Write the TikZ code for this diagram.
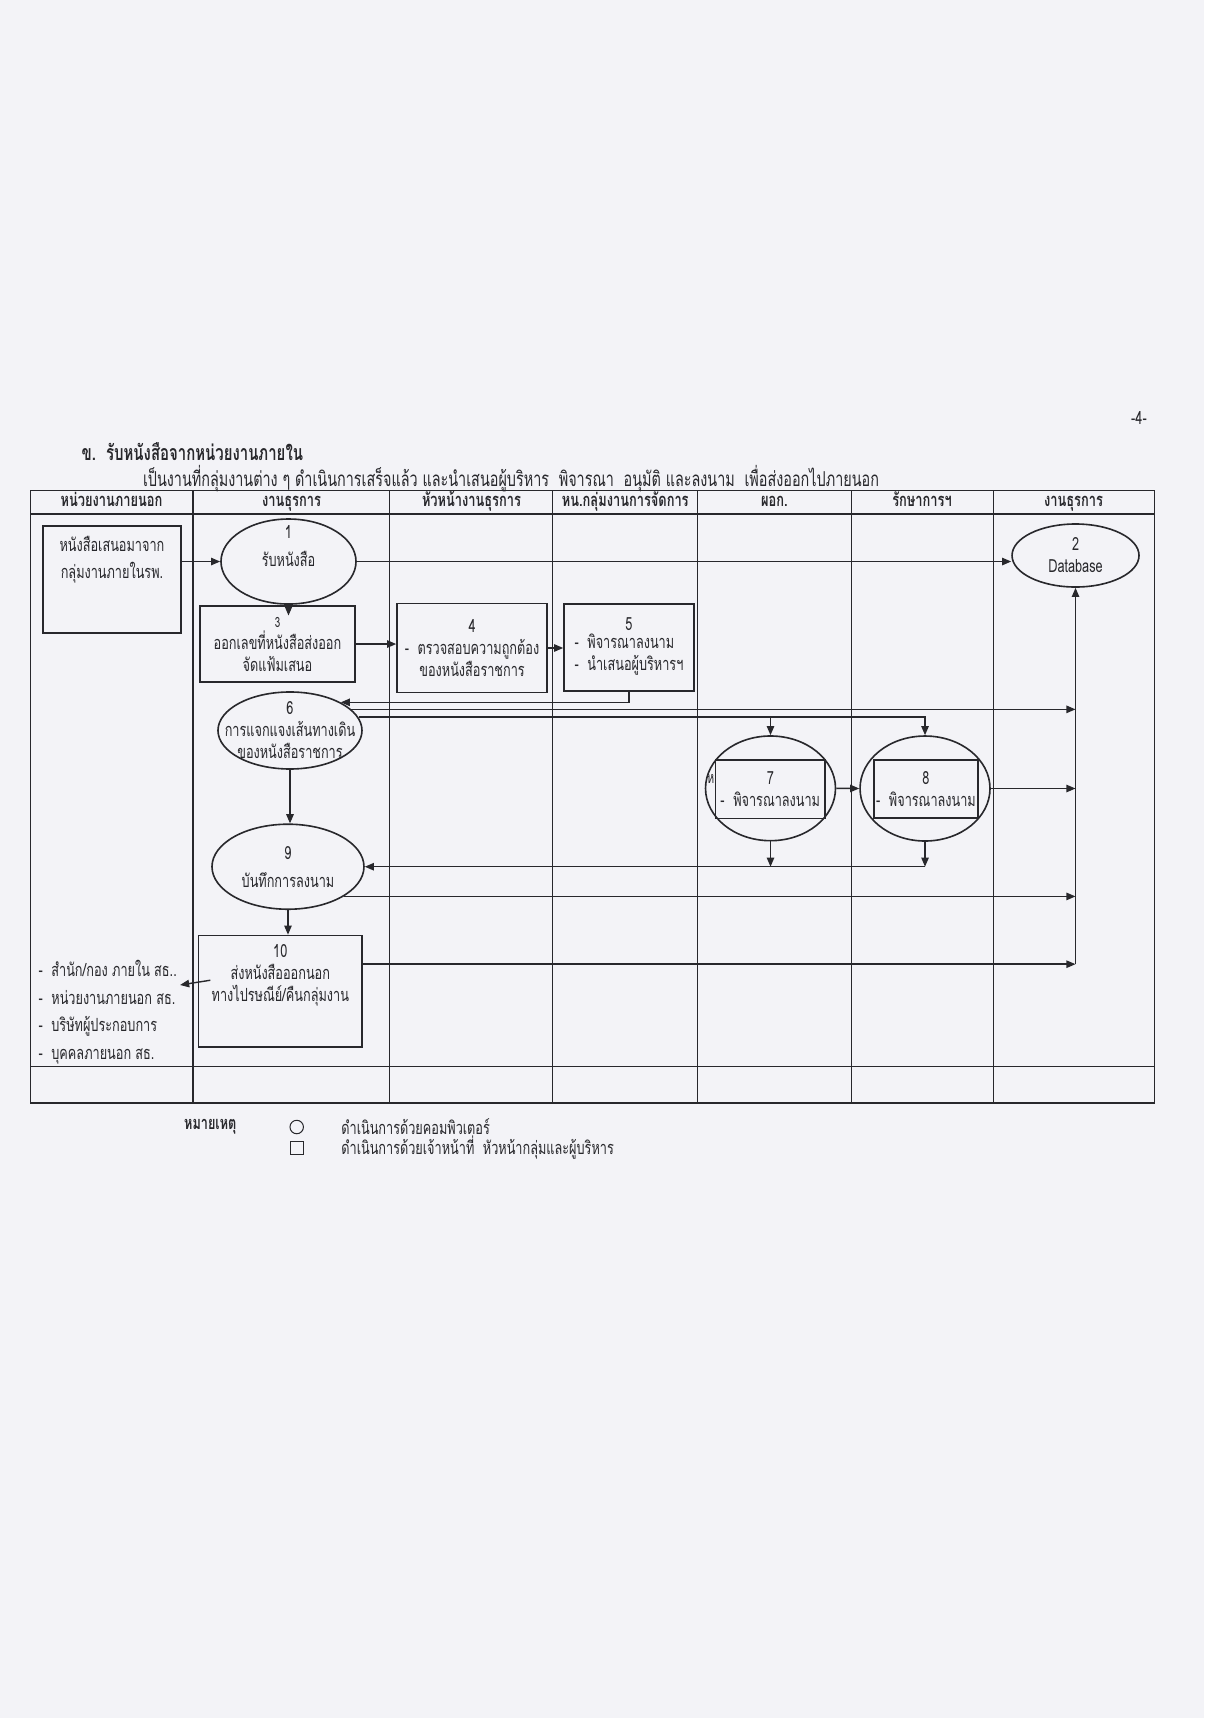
\documentclass[tikz,border=0pt]{standalone}
\usepackage{fontspec}
\newfontfamily\thai[Script=Thai, FakeStretch=0.7]{Loma}
\usetikzlibrary{shapes.geometric,arrows.meta}
\definecolor{paper}{RGB}{243,243,247}
\definecolor{ink}{RGB}{40,40,44}

\begin{document}
\begin{tikzpicture}[
          every node/.style={font=\thai\fontsize{9}{10.9}\selectfont, text=ink, align=center},
          header/.style={draw=ink, line width=0.5pt, inner sep=0pt, minimum height=0.418cm,
                         text height=0.2cm, text depth=0.06cm, font=\thai\bfseries\fontsize{9.1}{10.9}\selectfont},
          lane/.style={draw=ink, line width=0.5pt, inner sep=0pt, minimum height=9.628cm},
          foot/.style={draw=ink, line width=0.5pt, inner sep=0pt, minimum height=0.645cm},
          task/.style={draw=ink, line width=0.8pt, rectangle, inner sep=0pt},
          proc/.style={draw=ink, line width=0.8pt, ellipse, inner sep=0pt},
          arr/.style={draw=ink, line width=0.7pt, -{Triangle[length=1.6mm, width=1.3mm]}}
        ]

        % page
        \fill[paper] (0,0) rectangle (21,-29.965);
        \useasboundingbox (0,0) rectangle (21,-29.965);

        % Title lines
        \node (page no) at (19.866,-7.291) {-4-};
        \node[anchor=west, font=\thai\bfseries\fontsize{10.6}{12}\selectfont] (title) at (1.30,-7.878) {ข.\ \ รับหนังสือจากหน่วยงานภายใน};
        \node[anchor=west, font=\thai\fontsize{10.2}{11}\selectfont] (subtitle) at (2.37,-8.355) {เป็นงานที่กลุ่มงานต่าง ๆ ดำเนินการเสร็จแล้ว และนำเสนอผู้บริหาร\ \ พิจารณา\ \ อนุมัติ และลงนาม\ \ เพื่อส่งออกไปภายนอก};

        % Top row (column headers)
        \node[header, minimum width=2.843cm] (h1) at (1.945,-8.756) {หน่วยงานภายนอก};
        \node[header, minimum width=3.436cm] (h2) at (5.084,-8.756) {งานธุรการ};
        \node[header, minimum width=2.843cm] (h3) at (8.2235,-8.756) {หัวหน้างานธุรการ};
        \node[header, minimum width=2.522cm] (h4) at (10.906,-8.756) {หน.กลุ่มงานการจัดการ};
        \node[header, minimum width=2.676cm] (h5) at (13.505,-8.756) {ผอก.};
        \node[header, minimum width=2.477cm] (h6) at (16.0815,-8.756) {รักษาการฯ};
        \node[header, minimum width=2.808cm] (h7) at (18.724,-8.756) {งานธุรการ};

        % Lanes
        \node[lane, minimum width=2.843cm] (l1) at (1.945,-13.779) {};
        \node[lane, minimum width=3.436cm] (l2) at (5.084,-13.779) {};
        \node[lane, minimum width=2.843cm] (l3) at (8.2235,-13.779) {};
        \node[lane, minimum width=2.522cm] (l4) at (10.906,-13.779) {};
        \node[lane, minimum width=2.676cm] (l5) at (13.505,-13.779) {};
        \node[lane, minimum width=2.477cm] (l6) at (16.0815,-13.779) {};
        \node[lane, minimum width=2.808cm] (l7) at (18.724,-13.779) {};

        % Bottom row
        \node[foot, minimum width=2.843cm] (f1) at (1.945,-18.9155) {};
        \node[foot, minimum width=3.436cm] (f2) at (5.084,-18.9155) {};
        \node[foot, minimum width=2.843cm] (f3) at (8.2235,-18.9155) {};
        \node[foot, minimum width=2.522cm] (f4) at (10.906,-18.9155) {};
        \node[foot, minimum width=2.676cm] (f5) at (13.505,-18.9155) {};
        \node[foot, minimum width=2.477cm] (f6) at (16.0815,-18.9155) {};
        \node[foot, minimum width=2.808cm] (f7) at (18.724,-18.9155) {};

        % Steps
        \node[task, minimum width=2.407cm, minimum height=1.866cm,
              label={[yshift=0.346cm]center:หนังสือเสนอมาจาก\\[0.1cm]กลุ่มงานภายในรพ.}] (src) at (1.953,-10.108) {};
        \node[proc, minimum width=2.355cm, minimum height=1.483cm,
              label={[yshift=0.27cm]center:1\\[0.1cm]รับหนังสือ}] (one) at (5.032,-9.794) {};
        \node[proc, minimum width=2.215cm, minimum height=1.099cm,
              label={center:2\\Database}] (two) at (18.759,-9.689) {};
        \node[task, minimum width=2.704cm, minimum height=1.326cm,
              label={center:{\scriptsize 3}\\ออกเลขที่หนังสือส่งออก\\จัดแฟ้มเสนอ}] (three) at (4.840,-11.233) {};
        \node[task, minimum width=2.616cm, minimum height=1.552cm,
              label={center:4\\-\ \ ตรวจสอบความถูกต้อง\\ของหนังสือราชการ}] (four) at (8.233,-11.302) {};
        \node[task, minimum width=2.267cm, minimum height=1.517cm,
              label={center:5\\\begin{tabular}{@{}l@{}}-\ \ พิจารณาลงนาม\\-\ \ นำเสนอผู้บริหารฯ\end{tabular}}] (five) at (10.971,-11.294) {};
        \node[proc, minimum width=2.512cm, minimum height=1.343cm,
              label={center:6\\การแจกแจงเส้นทางเดิน\\ของหนังสือราชการ}] (six) at (5.058,-12.741) {};
        \node[proc, minimum width=2.267cm, minimum height=1.826cm] (seven) at (13.439,-13.750) {};
        \node[task, minimum width=1.908cm, minimum height=1.017cm] (seven box) at (13.435,-13.765) {7\\-\ \ พิจารณาลงนาม};
        \node[anchor=east, inner sep=0pt, font=\thai\fontsize{8}{9}\selectfont] (stray) at (seven box.west |- 0,-13.58) {ห};
        \node[proc, minimum width=2.267cm, minimum height=1.831cm] (eight) at (16.134,-13.753) {};
        \node[task, minimum width=1.814cm, minimum height=1.012cm] (eight box) at (16.151,-13.762) {8\\-\ \ พิจารณาลงนาม};
        \node[proc, minimum width=2.651cm, minimum height=1.483cm,
              label={center:9\\[0.1cm]บันทึกการลงนาม}] (nine) at (5.023,-15.117) {};
        \node[task, minimum width=2.852cm, minimum height=1.940cm,
              label={[yshift=0.28cm]center:10\\ส่งหนังสือออกนอก\\ทางไปรษณีย์/คืนกลุ่มงาน}] (ten) at (4.889,-17.287) {};

        % Receivers
        \node[anchor=west, align=left, font=\thai\fontsize{9}{13.7}\selectfont] (dest) at (0.55,-17.655)
              {-\ \ สำนัก/กอง ภายใน สธ..\\-\ \ หน่วยงานภายนอก สธ.\\-\ \ บริษัทผู้ประกอบการ\\-\ \ บุคคลภายนอก สธ.};
        \coordinate (dest arrow) at (3.14,-17.18);

        % Connectors
        \draw[arr] (src.east |- one.west) -- (one.west);
        \draw[arr] (one.east) -- (one.east -| two.west);
        \draw[arr] (one.south) -- ([yshift=-0.18cm]one.south |- three.north);
        \draw[arr] (three.east) -- (three.east -| four.west);
        \draw[arr] (four.east) -- (four.east -| five.west);
        \draw[arr] (five.south) |- (six.29);
        \draw[arr] (six.19) -- (six.19 -| two.south);
        \draw[arr] (six.11) -| (eight.north);
        \draw[arr] (six.11 -| seven.north) -- (seven.north);
        \draw[arr] (seven.east) -- (eight.west);
        \draw[arr] (eight.east) -- (eight.east -| two.south);
        \coordinate (back) at (eight.south |- nine.east);
        \draw[arr] (eight.south) -- (back);
        \draw[arr] (seven.south) -- (seven.south |- nine.east);
        \draw[arr] (back) -- (nine.east);
        \draw[arr] (six.south) -- (six.south |- nine.north);
        \draw[arr] (nine.-28) -- (nine.-28 -| two.south);
        \draw[arr] (nine.south) -- (nine.south |- ten.north);
        \coordinate (bus) at ([yshift=0.47cm]ten.east -| two.south);
        \draw[arr] ([yshift=0.47cm]ten.east) -- (bus);
        \draw[arr] (bus) -- (two.south);
        \draw[arr] ([shift={(0.22,0.19)}]ten.west) -- (dest arrow);

        % Legend
        \node[font=\thai\bfseries\fontsize{9}{10.9}\selectfont] (note) at (3.668,-19.652) {หมายเหตุ};
        \node[draw=ink, line width=0.5pt, circle, minimum size=0.235cm, inner sep=0pt] (key circle) at (5.175,-19.657) {};
        \node[draw=ink, line width=0.5pt, rectangle, minimum size=0.235cm, inner sep=0pt] (key box) at (5.180,-20.023) {};
        \node[anchor=west] (key circle text) at (5.83,-19.657) {ดำเนินการด้วยคอมพิวเตอร์};
        \node[anchor=west] (key box text) at (5.83,-20.023) {ดำเนินการด้วยเจ้าหน้าที่\ \ หัวหน้ากลุ่มและผู้บริหาร};

      \end{tikzpicture}
\end{document}
